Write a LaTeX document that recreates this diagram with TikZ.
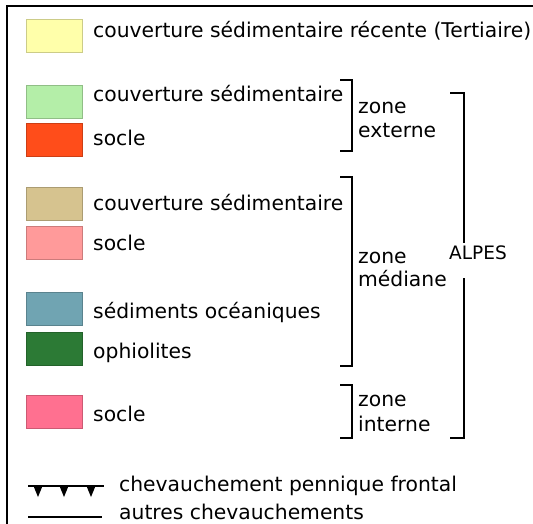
\documentclass[tikz,border=0pt]{standalone}
\usepackage{fontspec}
\setmainfont{DejaVu Sans}
\usetikzlibrary{positioning}

\definecolor{tertiaire}{HTML}{FFFFAA}
\definecolor{couvext}{HTML}{B4EEA8}
\definecolor{soclext}{HTML}{FF4D1A}
\definecolor{couvmed}{HTML}{D6C38F}
\definecolor{soclmed}{HTML}{FF9A9A}
\definecolor{sedoce}{HTML}{70A4B2}
\definecolor{ophio}{HTML}{2C7A35}
\definecolor{soclint}{HTML}{FF7090}

\begin{document}
\begin{tikzpicture}[x=1pt,y=-1pt,
  swatch/.style={draw=#1!80!black, fill=#1, line width=0.8pt,
    minimum width=56pt, minimum height=33pt, inner sep=0pt, anchor=north west},
  legtext/.style={anchor=base west, inner sep=0pt, font=\fontsize{20.3}{20}\selectfont},
  brace/.style={line width=1.6pt}]
  \useasboundingbox (0,0) rectangle (533,524);
  \draw[line width=2.2pt] (533,6) -- (7,6) -- (7,524);

  % colour boxes
  \node[swatch=tertiaire] (s1) at (26,19)  {};
  \node[swatch=couvext]   (s2) at (26,85)  {};
  \node[swatch=soclext]   (s3) at (26,123) {};
  \node[swatch=couvmed]   (s4) at (26,187) {};
  \node[swatch=soclmed]   (s5) at (26,226) {};
  \node[swatch=sedoce]    (s6) at (26,292) {};
  \node[swatch=ophio]     (s7) at (26,332) {};
  \node[swatch=soclint]   (s8) at (26,395) {};

  \node[legtext] (t1) at (93,38)  {couverture sédimentaire récente (Tertiaire)};
  \node[legtext] (t2) at (93,102) {couverture sédimentaire};
  \node[legtext] (t3) at (93,146) {socle};
  \node[legtext] (t4) at (93,211) {couverture sédimentaire};
  \node[legtext] (t5) at (93,250) {socle};
  \node[legtext] (t6) at (93,318) {sédiments océaniques};
  \node[legtext] (t7) at (93,358) {ophiolites};
  \node[legtext] (t8) at (93,421) {socle};

  % zones
  \node[legtext] (ext1) at (358,114) {zone};
  \node[legtext] (ext2) at (358,138) {externe};
  \node[legtext] (med1) at (358,263) {zone};
  \node[legtext] (med2) at (358,286) {médiane};
  \node[legtext] (int1) at (358,406) {zone};
  \node[legtext] (int2) at (358,431) {interne};
  \node[anchor=base west, inner sep=0pt, font=\fontsize{18.5}{18}\selectfont] (alpes) at (449,259) {ALPES};

  \draw[brace] (340,80) -- (352,80) -- (352,151) -- (340,151);
  \draw[brace] (340,177) -- (352,177) -- (352,366) -- (340,366);
  \draw[brace] (340,385) -- (352,385) -- (352,438) -- (340,438);
  \draw[brace] (450,93) -- (464,93) -- (464,243);
  \draw[brace] (464,278) -- (464,438) -- (450,438);

  % thrusts
  \coordinate (thrA) at (28,486);
  \coordinate (thrB) at (104,486);
  \draw[line width=1.8pt] (thrA) -- (thrB);
  \foreach \x in {38,64,91}
    \fill (\x-4.5,486) -- (\x+4.5,486) -- (\x,497) -- cycle;
  \coordinate (autA) at (28,517);
  \coordinate (autB) at (102,517);
  \draw[line width=1.8pt] (autA) -- (autB);

  \node[legtext] (c1) at (119,491) {chevauchement pennique frontal};
  \node[legtext] (c2) at (119,519) {autres chevauchements};
\end{tikzpicture}
\end{document}
